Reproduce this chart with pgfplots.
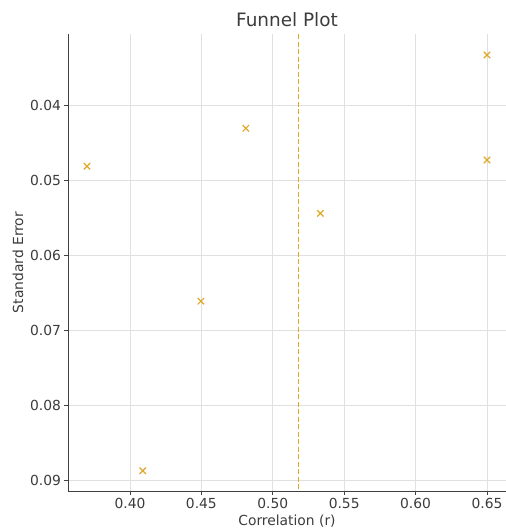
\documentclass[border=0pt]{standalone}
\usepackage{fontspec}
\setmainfont{DejaVu Sans}
\usepackage{pgfplots}
\pgfplotsset{compat=1.18}
\usetikzlibrary{calc}
\definecolor{gold}{RGB}{222,168,40}
\definecolor{txt}{RGB}{60,60,60}
\begin{document}
\begin{tikzpicture}[x=1bp,y=1bp]
\begin{axis}[
  scale only axis,
  width=438bp, height=457bp,
  xmin=0.3566, xmax=0.6633,
  ymin=0.0305, ymax=0.0914,
  y dir=reverse,
  scaled y ticks=false, scaled x ticks=false,
  axis x line*=bottom, axis y line*=left,
  axis line style={-, color=black!75, line width=0.8pt},
  xtick={0.40,0.45,0.50,0.55,0.60,0.65},
  ytick={0.04,0.05,0.06,0.07,0.08,0.09},
  tick align=outside,
  major tick length=3.5bp,
  tick style={color=black!75, line width=0.8pt},
  grid=major,
  major grid style={color=black!12, line width=0.6pt},
  /pgf/number format/fixed,
  /pgf/number format/fixed zerofill,
  /pgf/number format/precision=2,
  /pgf/number format/assume math mode=true,
  ticklabel style={font=\fontsize{13.9}{16}\selectfont, color=txt},
  label style={font=\fontsize{13.9}{16}\selectfont, color=txt},
  xlabel={Correlation (r)},
  ylabel={Standard Error},
  title={Funnel Plot},
  title style={font=\fontsize{18.5}{22}\selectfont, color=txt, yshift=-2bp},
  clip=false,
]
\addplot[only marks, mark=x, mark size=4.5bp, gold, mark options={line width=1.2pt}] coordinates {
 (0.3699,0.04813) (0.4090,0.08870) (0.4497,0.06610) (0.4811,0.04307)
 (0.5333,0.05440) (0.6500,0.03330) (0.6500,0.04730)
};
\addplot[gold, line width=1.2pt, dash pattern=on 5bp off 2.5bp] coordinates {(0.5179,0.0305) (0.5179,0.0914)};
\end{axis}
\pgfresetboundingbox
\useasboundingbox ($(current axis.south west)+(-68bp,-40bp)$) rectangle ($(current axis.north east)+(0bp,34bp)$);
\end{tikzpicture}
\end{document}
